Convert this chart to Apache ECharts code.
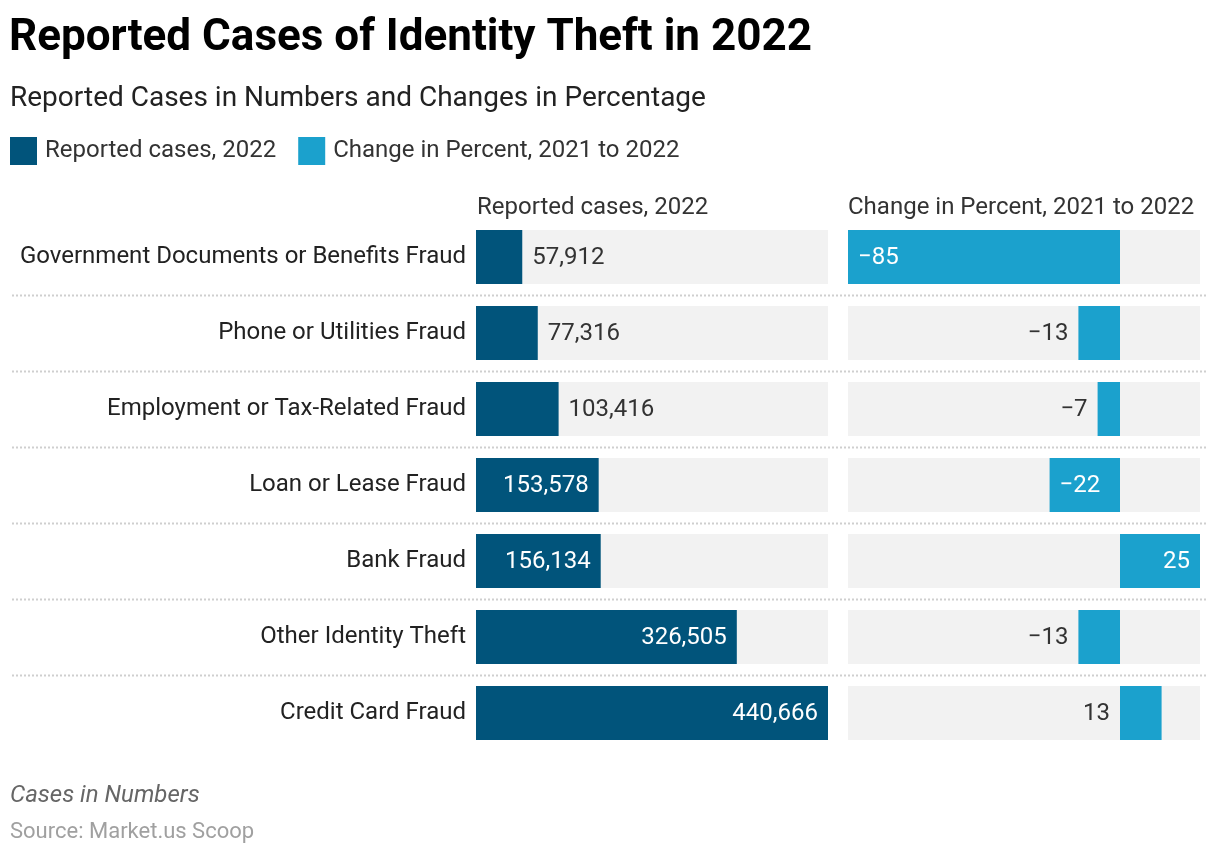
<!DOCTYPE html>
<html><head><meta charset="utf-8">
<script src="https://cdn.jsdelivr.net/npm/echarts@6/dist/echarts.min.js"></script>
<style>html,body{margin:0;padding:0;background:#fff}#c{width:1220px;height:856px}</style>
</head><body><div id="c"></div>
<script>
const categories = [
  'Government Documents or Benefits Fraud',
  'Phone or Utilities Fraud',
  'Employment or Tax-Related Fraud',
  'Loan or Lease Fraud',
  'Bank Fraud',
  'Other Identity Theft',
  'Credit Card Fraud'
];
const reportedCases = [57912, 77316, 103416, 153578, 156134, 326505, 440666];
const changePercent = [-85, -13, -7, -22, 25, -13, 13];
const seriesNames = ['Reported cases, 2022', 'Change in Percent, 2021 to 2022'];

const FONT = 'Roboto';
const DARK = '#01547b';
const LIGHT = '#1ba1cd';
const BG = '#f2f2f2';
const LBL = 24;
const PANEL_W = 352;
const PAD = 10;

const ctx = document.createElement('canvas').getContext('2d');
ctx.font = LBL + 'px ' + FONT;
const tw = s => ctx.measureText(s).width;

const fmtCases = v => v.toLocaleString('en-US');
const fmtPct = v => (v < 0 ? '\u2212' + Math.abs(v) : String(v));

const casesMax = Math.max(...reportedCases);
const pctMin = Math.min(...changePercent), pctMax = Math.max(...changePercent);

const casesData = reportedCases.map(v => {
  const px = v / casesMax * PANEL_W;
  const fits = px >= tw(fmtCases(v)) + 2 * PAD;
  return { value: v, label: fits
    ? { position: 'insideRight', color: '#fff', distance: PAD }
    : { position: 'right', color: '#333', distance: PAD } };
});
const pctData = changePercent.map(v => {
  const px = Math.abs(v) / (pctMax - pctMin) * PANEL_W;
  const fits = px >= tw(fmtPct(v)) + 2 * PAD;
  let label;
  if (fits) label = { position: v < 0 ? 'insideLeft' : 'insideRight', color: '#fff', distance: PAD };
  else label = { position: 'left', color: '#333', distance: PAD };
  return { value: v, label };
});

const chart = echarts.init(document.getElementById('c'), null, { renderer: 'canvas' });
const gridTop = 219, gridH = 532;
const option = {
  animation: false,
  textStyle: { fontFamily: FONT },
  title: [
    { text: 'Reported Cases of Identity Theft in 2022', left: 9, top: 17, padding: 0,
      textStyle: { fontFamily: FONT, fontSize: 44, fontWeight: 'bold', color: '#000' } },
    { text: 'Reported Cases in Numbers and Changes in Percentage', left: 10, top: 85, padding: 0,
      textStyle: { fontFamily: FONT, fontSize: 28, fontWeight: 'normal', color: '#222' } },
    { text: seriesNames[0], left: 477, top: 196, padding: 0,
      textStyle: { fontFamily: FONT, fontSize: 24, fontWeight: 'normal', color: '#333' } },
    { text: seriesNames[1], left: 848, top: 196, padding: 0,
      textStyle: { fontFamily: FONT, fontSize: 24, fontWeight: 'normal', color: '#333' } },
    { text: 'Cases in Numbers', left: 10, top: 784, padding: 0,
      textStyle: { fontFamily: FONT, fontSize: 24, fontStyle: 'italic', fontWeight: 'normal', color: '#666' } },
    { text: 'Source: Market.us Scoop', left: 10, top: 821, padding: 0,
      textStyle: { fontFamily: FONT, fontSize: 22, fontWeight: 'normal', color: '#a0a0a0' } }
  ],
  legend: {
    left: 10, top: 137, padding: 0, itemWidth: 27, itemHeight: 28, itemGap: 22, icon: 'rect',
    selectedMode: false,
    textStyle: { fontFamily: FONT, fontSize: 24, color: '#333', padding: [2, 0, 0, 3] },
    data: seriesNames
  },
  grid: [
    { left: 476, top: gridTop, width: PANEL_W, height: gridH, containLabel: false },
    { left: 848, top: gridTop, width: PANEL_W, height: gridH, containLabel: false }
  ],
  xAxis: [
    { type: 'value', gridIndex: 0, min: 0, max: casesMax, show: false },
    { type: 'value', gridIndex: 1, min: pctMin, max: pctMax, show: false }
  ],
  yAxis: [
    { type: 'category', gridIndex: 0, data: categories, inverse: true,
      axisLine: { show: false }, axisTick: { show: false }, splitLine: { show: false },
      axisLabel: { fontFamily: FONT, fontSize: LBL, color: '#222', margin: 10, padding: [6, 0, 0, 0] } },
    { type: 'category', gridIndex: 1, data: categories, inverse: true, show: false }
  ],
  series: [
    { name: seriesNames[0], type: 'bar', xAxisIndex: 0, yAxisIndex: 0,
      data: casesData, barWidth: 54, itemStyle: { color: DARK },
      showBackground: true, backgroundStyle: { color: BG },
      label: { show: true, fontFamily: FONT, fontSize: LBL, offset: [0, 1], formatter: p => fmtCases(p.value) } },
    { name: seriesNames[1], type: 'bar', xAxisIndex: 1, yAxisIndex: 1,
      data: pctData, barWidth: 54, itemStyle: { color: LIGHT },
      showBackground: true, backgroundStyle: { color: BG },
      label: { show: true, fontFamily: FONT, fontSize: LBL, offset: [0, 1], formatter: p => fmtPct(p.value) } }
  ]
};
chart.setOption(option);

// dotted separators between rows
const seps = [];
for (let i = 0; i < categories.length - 1; i++) {
  const y0 = chart.convertToPixel({ yAxisIndex: 0 }, i);
  const y1 = chart.convertToPixel({ yAxisIndex: 0 }, i + 1);
  const y = Math.round((y0 + y1) / 2) + 0.5;
  seps.push({ type: 'line', shape: { x1: 12, y1: y, x2: 1208, y2: y },
    style: { stroke: '#cfcfcf', lineWidth: 2, lineDash: [2, 2] }, silent: true, z: 0 });
}
chart.setOption({ graphic: seps });
</script></body></html>
